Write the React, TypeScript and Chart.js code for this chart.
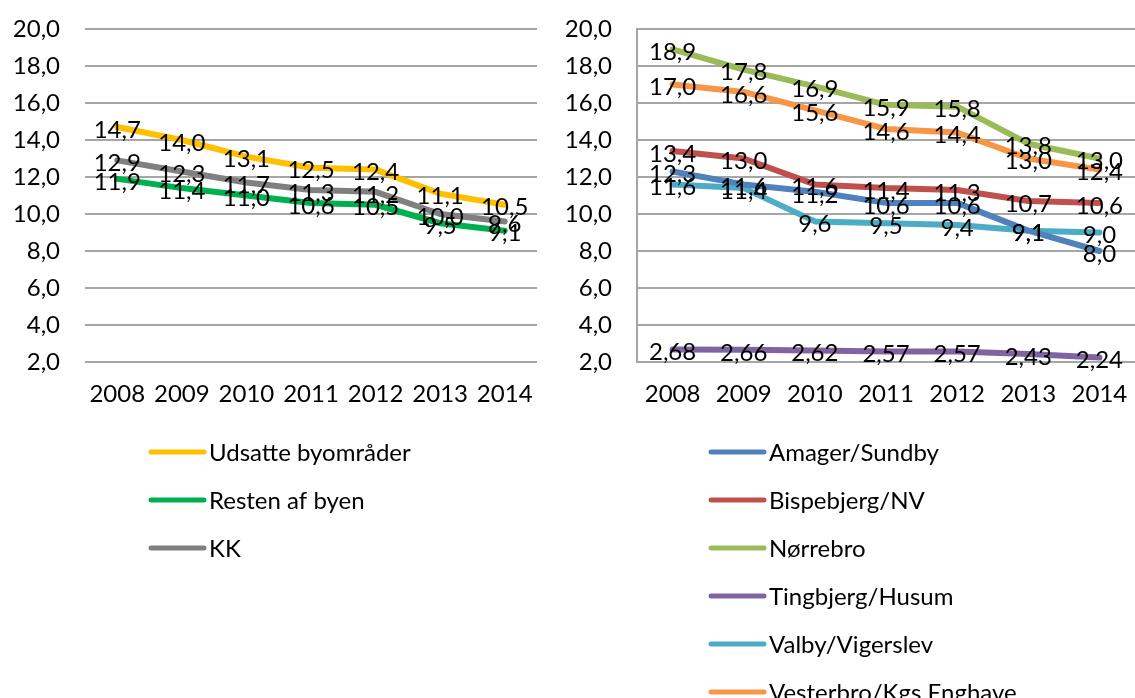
import { useEffect, useRef } from "react";
import { Chart, registerables } from "chart.js";

Chart.register(...registerables);

const years = ["2008", "2009", "2010", "2011", "2012", "2013", "2014"];
const yMin = 2;
const yMax = 20;
const yStep = 2;

// Left chart
const udsatte = [14.7, 14.0, 13.1, 12.5, 12.4, 11.1, 10.5];
const resten = [11.9, 11.4, 11.0, 10.6, 10.5, 9.5, 9.1];
const kk = [12.9, 12.3, 11.7, 11.3, 11.2, 10.0, 9.6];

// Right chart
const amager = [12.3, 11.6, 11.2, 10.6, 10.6, 9.1, 8.0];
const bispebjerg = [13.4, 13.0, 11.6, 11.4, 11.3, 10.7, 10.6];
const noerrebro = [18.9, 17.8, 16.9, 15.9, 15.8, 13.8, 13.0];
const tingbjerg = [2.68, 2.66, 2.62, 2.57, 2.57, 2.43, 2.24];
const valby = [11.6, 11.4, 9.6, 9.5, 9.4, 9.1, 9.0];
const vesterbro = [17.0, 16.6, 15.6, 14.6, 14.4, 13.0, 12.4];

const FONT = "Lato, 'Open Sans', sans-serif";
const FONT_SIZE = 24;
const GRID = "#a6a6a6";

const fmt = (v: number, d: number) => v.toFixed(d).replace(".", ",");

const valueLabels = {
  id: "valueLabels",
  afterDatasetsDraw(chart: any) {
    const ctx = chart.ctx;
    ctx.save();
    ctx.font = `${FONT_SIZE}px ${FONT}`;
    ctx.fillStyle = "#000";
    ctx.textAlign = "center";
    ctx.textBaseline = "middle";
    chart.data.datasets.forEach((ds: any, i: number) => {
      const meta = chart.getDatasetMeta(i);
      meta.data.forEach((pt: any, j: number) => {
        ctx.fillText(fmt(ds.data[j], ds.decimals ?? 1), pt.x, pt.y + 3);
      });
    });
    ctx.restore();
  },
};

const sideLegend = {
  id: "sideLegend",
  afterDraw(chart: any) {
    const ctx = chart.ctx;
    ctx.save();
    ctx.font = `${FONT_SIZE}px ${FONT}`;
    ctx.textAlign = "left";
    ctx.textBaseline = "middle";
    chart.data.datasets.forEach((ds: any, i: number) => {
      const y = 452 + i * 48;
      ctx.strokeStyle = ds.borderColor;
      ctx.lineWidth = 5;
      ctx.lineCap = "round";
      ctx.beginPath();
      ctx.moveTo(151, y);
      ctx.lineTo(204, y);
      ctx.stroke();
      ctx.fillStyle = "#000";
      ctx.fillText(ds.label, 209, y + 1);
    });
    ctx.restore();
  },
};

function makeDs(label: string, data: number[], color: string, decimals = 1) {
  return {
    label,
    data,
    borderColor: color,
    backgroundColor: color,
    borderWidth: 6,
    borderCapStyle: "round",
    borderJoinStyle: "round",
    pointRadius: 0,
    tension: 0,
    decimals,
  };
}

function makeOptions(yWidth: number, showAxisLine: boolean, rightPad: number) {
  return {
    responsive: false,
    animation: false,
    layout: { padding: { top: 29, bottom: 291, left: 0, right: rightPad } },
    plugins: { legend: { display: false }, tooltip: { enabled: false } },
    scales: {
      x: {
        offset: true,
        grid: { display: false, drawTicks: true, tickLength: 18, tickColor: "rgba(0,0,0,0)", offset: true },
        border: { display: false },
        ticks: {
          color: "#000",
          font: { family: FONT, size: FONT_SIZE },
          padding: 0,
          maxRotation: 0,
          autoSkip: false,
        },
        afterFit: (s: any) => {
          s.height = 45;
        },
      },
      y: {
        min: yMin,
        max: yMax,
        grid: { color: GRID, lineWidth: 2, drawTicks: true, tickLength: 25, tickColor: "rgba(0,0,0,0)" },
        border: { display: showAxisLine, color: GRID, width: 2 },
        ticks: {
          stepSize: yStep,
          autoSkip: false,
          color: "#000",
          font: { family: FONT, size: FONT_SIZE },
          padding: 0,
          callback: (v: any) => fmt(Number(v), 1),
        },
        afterFit: (s: any) => {
          s.width = yWidth;
        },
      },
    },
  };
}

function LineChart({ width, datasets, yWidth, axisLine, rightPad }: any) {
  const ref = useRef<HTMLCanvasElement | null>(null);
  useEffect(() => {
    if (!ref.current) return;
    const chart = new Chart(ref.current, {
      type: "line",
      data: { labels: years, datasets },
      options: makeOptions(yWidth, axisLine, rightPad) as any,
      plugins: [valueLabels, sideLegend],
    });
    return () => chart.destroy();
  }, []);
  return <canvas ref={ref} width={width} height={698} style={{ display: "block" }} />;
}

export default function App() {
  const leftSets = [
    makeDs("Udsatte byområder", udsatte, "#FFC000"),
    makeDs("Resten af byen", resten, "#00B050"),
    makeDs("KK", kk, "#808080"),
  ];
  const rightSets = [
    makeDs("Amager/Sundby", amager, "#4F81BD"),
    makeDs("Bispebjerg/NV", bispebjerg, "#C0504D"),
    makeDs("Nørrebro", noerrebro, "#9BBB59"),
    makeDs("Tingbjerg/Husum", tingbjerg, "#8064A2", 2),
    makeDs("Valby/Vigerslev", valby, "#4BACC6"),
    makeDs("Vesterbro/Kgs Enghave", vesterbro, "#F79646"),
  ];
  return (
    <div
      style={{
        position: "fixed",
        left: 0,
        top: 0,
        width: 1135,
        height: 698,
        background: "#fff",
        overflow: "hidden",
      }}
    >
      <div style={{ position: "absolute", left: 0, top: 0 }}>
        <LineChart width={560} datasets={leftSets} yWidth={85} axisLine={false} rightPad={23} />
      </div>
      <div style={{ position: "absolute", left: 560, top: 0 }}>
        <LineChart width={575} datasets={rightSets} yWidth={77} axisLine={true} rightPad={0} />
      </div>
    </div>
  );
}
